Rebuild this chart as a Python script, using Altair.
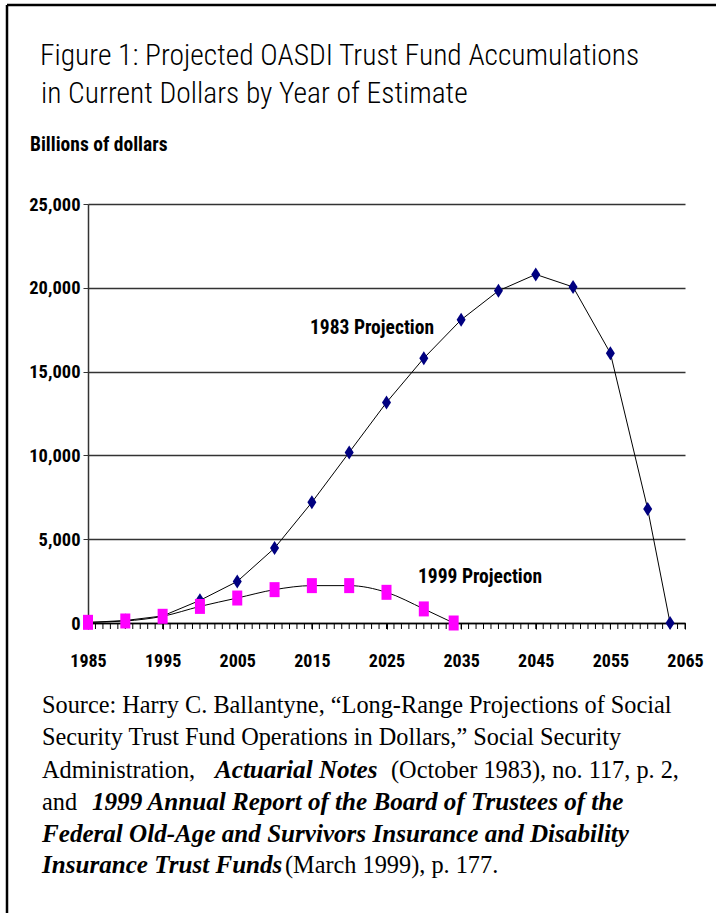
import altair as alt
import pandas as pd

# ---- data ----
years_1983 = [1985, 1990, 1995, 2000, 2005, 2010, 2015, 2020, 2025, 2030,
              2035, 2040, 2045, 2050, 2055, 2060, 2063]
values_1983 = [30, 150, 420, 1350, 2480, 4470, 7200, 10180, 13160, 15800,
               18090, 19820, 20800, 20050, 16100, 6800, 0]
years_1999 = [1985, 1990, 1995, 2000, 2005, 2010, 2015, 2020, 2025, 2030, 2034]
values_1999 = [40, 120, 400, 990, 1490, 1990, 2230, 2230, 1830, 840, 0]

x_domain = [1985, 2065]
y_domain = [0, 25000]
y_ticks = [0, 5000, 10000, 15000, 20000, 25000]
x_label_ticks = list(range(1985, 2066, 10))
x_minor_ticks = list(range(1985, 2066))

title_lines = ["Figure 1: Projected OASDI Trust Fund Accumulations",
               "in Current Dollars by Year of Estimate"]
y_title = "Billions of dollars"
label_1983 = "1983 Projection"
label_1999 = "1999 Projection"

source_segments = [
    ("Source: Harry C. Ballantyne, \u201cLong-Range Projections of Social", "r", 0, 0),
    ("Security Trust Fund Operations in Dollars,\u201d Social Security", "r", 1, 0),
    ("Administration,", "r", 2, 0),
    ("Actuarial Notes", "bi", 2, 1),
    ("(October 1983), no. 117, p. 2,", "r", 2, 2),
    ("and", "r", 3, 0),
    ("1999 Annual Report of the Board of Trustees of the", "bi", 3, 1),
    ("Federal Old-Age and Survivors Insurance and Disability", "bi", 4, 0),
    ("Insurance Trust Funds", "bi", 5, 0),
    ("(March 1999), p. 177.", "r", 5, 1),
]

# ---- layout ----
L, T = 88, 204
W, H = 597, 419
TOTAL_W, TOTAL_H = 716, 913

COND = "Roboto Condensed, Liberation Sans, Arial, sans-serif"
SERIF = "Liberation Serif, Times New Roman, serif"

df83 = pd.DataFrame({"year": years_1983, "value": values_1983})
df99 = pd.DataFrame({"year": years_1999, "value": values_1999})
dfticks = pd.DataFrame({"year": x_minor_ticks})

x_enc = alt.X("year:Q",
              scale=alt.Scale(domain=x_domain, nice=False, zero=False),
              axis=alt.Axis(values=x_label_ticks, title=None, grid=False,
                            format="d", labelFontSize=18, labelFontWeight="bold",
                            labelFont=COND, labelColor="black", labelPadding=23,
                            tickSize=6, tickColor="black", tickWidth=1,
                            domainColor="black", domainWidth=1.5, labelOverlap=False,
                            labelFlush=False))
y_enc = alt.Y("value:Q",
              scale=alt.Scale(domain=y_domain, nice=False),
              axis=alt.Axis(values=y_ticks, title=None, grid=True, format=",d",
                            gridColor="#333333", gridWidth=1.3,
                            labelFontSize=18.5, labelFontWeight="bold", labelFont=COND,
                            labelColor="black", labelPadding=3,
                            tickSize=5, tickColor="#333333", domainColor="#333333",
                            domainWidth=1.5))

line83 = alt.Chart(df83).mark_line(color="black", strokeWidth=1).encode(x=x_enc, y=y_enc)
line99 = alt.Chart(df99).mark_line(color="black", strokeWidth=1,
                                   interpolate="monotone").encode(x="year:Q", y="value:Q")
minor = alt.Chart(dfticks).mark_rule(color="black", strokeWidth=1).encode(
    x="year:Q", y=alt.value(H), y2=alt.value(H + 6))
pts83 = alt.Chart(df83).mark_point(
    shape="M0,-1L0.643,0L0,1L-0.643,0Z", size=196, filled=True,
    color="#000080", opacity=1).encode(x="year:Q", y="value:Q")
pts99 = alt.Chart(df99).mark_point(
    shape="M-0.667,-1L0.667,-1L0.667,1L-0.667,1Z", size=225, filled=True,
    color="#FF00FF", opacity=1).encode(x="year:Q", y="value:Q")

one = pd.DataFrame({"a": [0]})


def text_at(s, px, py, **kw):
    return alt.Chart(one).mark_text(text=s, align="left", baseline="alphabetic",
                                    **kw).encode(x=alt.value(px - L), y=alt.value(py - T))


layers = [line83, line99, minor, pts83, pts99]

layers.append(text_at(label_1983, 310, 334, font=COND, fontSize=19.5,
                      fontWeight="bold", color="black"))
layers.append(text_at(label_1999, 418, 583, font=COND, fontSize=19.5,
                      fontWeight="bold", color="black"))
layers.append(text_at(y_title, 30, 151, font=COND, fontSize=19.5,
                      fontWeight="bold", color="black"))
layers.append(text_at(title_lines[0], 40, 65, font=COND, fontSize=29.5,
                      fontWeight=300, color="black"))
layers.append(text_at(title_lines[1], 41, 103, font=COND, fontSize=29.5,
                      fontWeight=300, color="black"))

line_base = [713, 745, 778, 810, 842, 873]
seg_x = {(0, 0): 42, (1, 0): 42, (2, 0): 42, (2, 1): 215, (2, 2): 391,
         (3, 0): 42, (3, 1): 92, (4, 0): 42, (5, 0): 42, (5, 1): 285}
for s, style, li, si in source_segments:
    kw = dict(font=SERIF, fontSize=24.3, color="black")
    if style == "bi":
        kw.update(fontWeight="bold", fontStyle="italic", fontSize=25.1)
    layers.append(text_at(s, seg_x[(li, si)], line_base[li], **kw))

layers.append(alt.Chart(one).mark_rule(color="black", strokeWidth=2.5).encode(
    x=alt.value(7 - L), x2=alt.value(TOTAL_W - L), y=alt.value(5 - T)))
layers.append(alt.Chart(one).mark_rule(color="black", strokeWidth=2.5).encode(
    x=alt.value(7 - L), y=alt.value(5 - T), y2=alt.value(TOTAL_H - T)))

chart = alt.layer(*layers).properties(
    width=W, height=H,
    autosize=alt.AutoSizeParams(type="none"),
    padding={"left": L, "top": T, "right": TOTAL_W - L - W, "bottom": TOTAL_H - T - H},
    background="white",
).configure_view(stroke=None)

chart.save("out.html", embed_options={"renderer": "svg", "actions": False})
